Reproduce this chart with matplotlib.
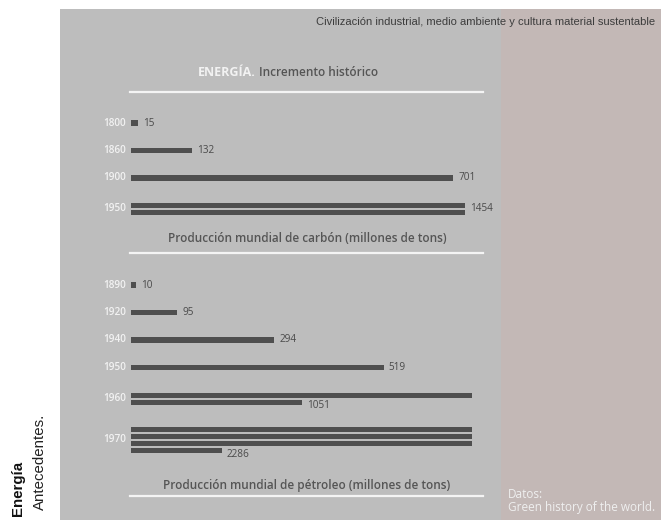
import matplotlib
matplotlib.use("Agg")
import matplotlib.pyplot as plt
from matplotlib.patches import Rectangle

# ---------------- data ----------------
coal_years = ["1800", "1860", "1900", "1950"]
coal_values = [15, 132, 701, 1454]
oil_years = ["1890", "1920", "1940", "1950", "1960", "1970"]
oil_values = [10, 95, 294, 519, 1051, 2286]

title_main_a = "ENERGÍA."
title_main_b = " Incremento histórico"
coal_title = "Producción mundial de carbón (millones de tons)"
oil_title = "Producción mundial de pétroleo (millones de tons)"
header = "Civilización industrial, medio ambiente y cultura material sustentable"
side_bold = "Energía"
side_light = "Antecedentes."
source = "Datos:\nGreen history of the world."

# ---------------- style ----------------
W, H = 661, 520
BG_GRAY = "#bdbdbd"
BG_PINK = "#c3b8b6"
BAR = "#4f4f4f"
VAL = "#4a4a4a"
YEAR = "#f2f2f2"
LINE = "#f4f4f4"
FONT = ["Open Sans", "DejaVu Sans"]

fig = plt.figure(figsize=(W / 100, H / 100), dpi=100)
fig.patch.set_facecolor("white")


def fx(x):
    return x / W


def fy(y):
    return 1 - y / H


# background panels
fig.add_artist(Rectangle((fx(60), 0), fx(501) - fx(60), fy(9), transform=fig.transFigure,
                         facecolor=BG_GRAY, edgecolor="none", zorder=0))
fig.add_artist(Rectangle((fx(501), 0), fx(661) - fx(501), fy(9), transform=fig.transFigure,
                         facecolor=BG_PINK, edgecolor="none", zorder=0))


def draw_panel(years, values, scale, wrap, y0, step, sub, label_multi_center):
    ax = fig.add_axes([0, 0, 1, 1])
    ax.set_facecolor("none")
    ax.set_xlim(-131 / scale, (W - 131) / scale)
    ax.set_ylim(H, 0)
    ax.axis("off")
    y = y0
    for yr, v in zip(years, values):
        chunks = []
        rem = v
        while rem > 0:
            chunks.append(min(rem, wrap))
            rem -= wrap
        ys = [y + i * sub for i in range(len(chunks))]
        th = 5.8 if len(chunks) == 1 else 5.0
        ax.barh(ys, chunks, height=th, left=0, color=BAR, edgecolor="none")
        yc = (ys[0] + ys[-1]) / 2
        ax.text(-5 / scale, yc, yr, ha="right", va="center", fontsize=7.2,
                color=YEAR, family=FONT, fontweight="semibold")
        if len(chunks) == 1:
            ly = ys[-1]
        elif label_multi_center:
            ly = yc
        else:
            ly = ys[-1] + 4
        ax.text(chunks[-1] + 5 / scale, ly, str(v), ha="left", va="center",
                fontsize=7.2, color=VAL, family=FONT)
        y = ys[-1] + step
    return ax


draw_panel(coal_years, coal_values, scale=0.46, wrap=727, y0=123, step=27.5, sub=6.5,
           label_multi_center=True)
draw_panel(oil_years, oil_values, scale=0.487, wrap=700, y0=285, step=27.5, sub=7,
           label_multi_center=False)

# header
fig.text(fx(655), fy(22), header, ha="right", va="center", fontsize=8,
         color="#3c3c3c", family=["Liberation Sans", "DejaVu Sans"])

# main title
t1 = fig.text(fx(198), fy(73), title_main_a, ha="left", va="center", fontsize=9,
              color="#f2f2f2", family=FONT, fontweight="bold")
fig.canvas.draw()
bb = t1.get_window_extent()
fig.text(bb.x1 / fig.dpi / fig.get_figwidth(), fy(73), title_main_b, ha="left", va="center",
         fontsize=8.5, color="#555555", family=FONT, fontweight="semibold")

# sub titles
fig.text(fx(307), fy(239), coal_title, ha="center", va="center", fontsize=8.5,
         color="#555555", family=FONT, fontweight="semibold")
fig.text(fx(307), fy(485), oil_title, ha="center", va="center", fontsize=8.5,
         color="#555555", family=FONT, fontweight="semibold")

# underlines
for yl in (92, 253, 496):
    fig.add_artist(plt.Line2D([fx(130), fx(483)], [fy(yl), fy(yl)], transform=fig.transFigure,
                              color=LINE, lw=1.6))

# side labels
fig.text(fx(18), fy(516), side_bold, rotation=90, ha="center", va="bottom", fontsize=10.8,
         color="#111111", family=["Liberation Sans", "DejaVu Sans"], fontweight="bold")
fig.text(fx(40), fy(510), side_light, rotation=90, ha="center", va="bottom", fontsize=10.8,
         color="#222222", family=["Liberation Sans", "DejaVu Sans"])

# source
fig.text(fx(508), fy(501), source, ha="left", va="center", fontsize=8.5,
         color="#efefef", family=FONT, linespacing=1.0)

fig.savefig("out.png", dpi=100, facecolor="white")
